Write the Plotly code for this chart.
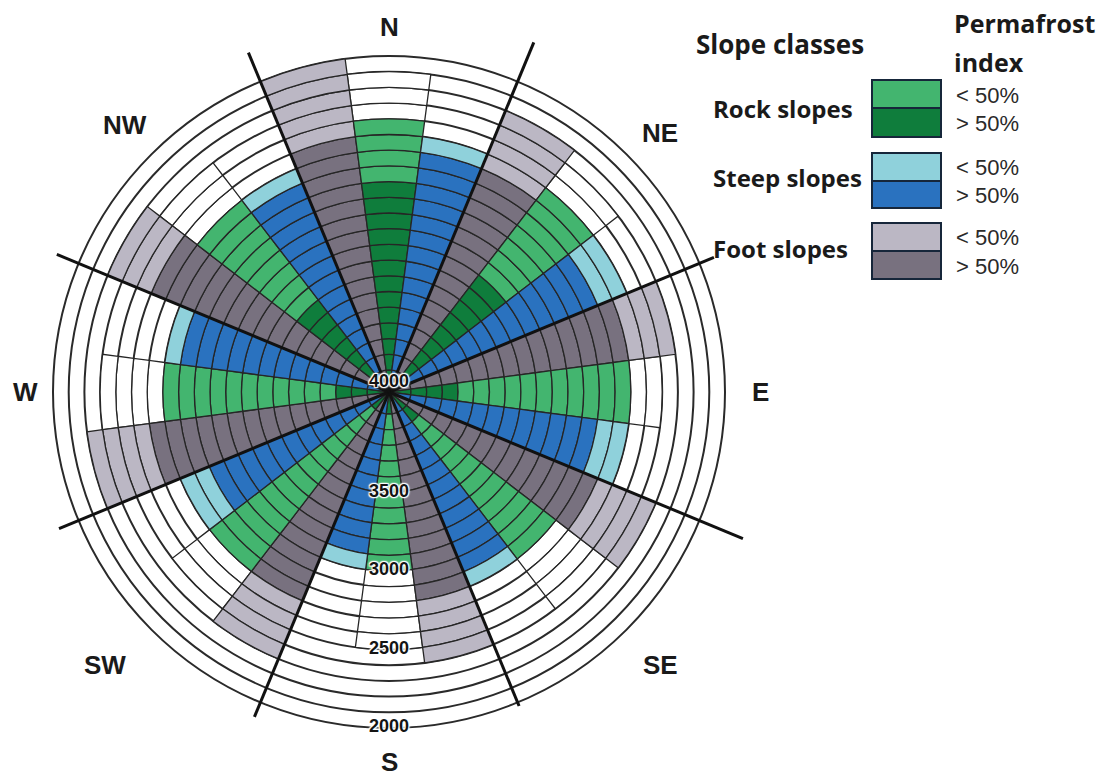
import plotly.graph_objects as go

# ---------------------------------------------------------------------------
# Data: lower elevation limits (m a.s.l.) of each slope class per aspect
# ---------------------------------------------------------------------------
directions = ["N", "NE", "E", "SE", "S", "SW", "W", "NW"]
aspect_deg = [0, 45, 90, 135, 180, 225, 270, 315]

# Rock slopes
rock_pf_high_lower = [2800, 3200, 3700, 3900, 4000, 4000, 3800, 3400]   # index > 50 %
rock_pf_low_lower = [2400, 2500, 2600, 2800, 3000, 2700, 2700, 2600]    # index < 50 %
rock_range_lower = [2100, 2300, 2400, 2400, 2500, 2400, 2300, 2300]     # class extent

# Steep slopes
steep_pf_high_lower = [2600, 2700, 2800, 2900, 3100, 2900, 2800, 2700]
steep_pf_low_lower = [2500, 2500, 2600, 2800, 3000, 2700, 2700, 2600]

# Foot slopes
foot_pf_high_lower = [2500, 2600, 2600, 2700, 2800, 2700, 2600, 2500]
foot_pf_low_lower = [2000, 2200, 2300, 2300, 2400, 2300, 2200, 2200]

elevation_ticks = [2000, 2500, 3000, 3500]
center_tick = 4000

# ---------------------------------------------------------------------------
# Geometry / style
# ---------------------------------------------------------------------------
W, H = 1107, 779
CX, CY = 389, 392          # pixel centre of the rose
R_TOP = 4140               # elevation at the centre
R_2000_PX = 336            # pixel radius of the 2000 m ring
R_OUT = 1680               # elevation at the edge of the polar frame
RING_STEP = 100
SUB_WIDTH = 15

px_per_m = R_2000_PX / (R_TOP - 2000)
frame_px = (R_TOP - R_OUT) * px_per_m

COL = {
    "rock_hi": "#0f7d3c", "rock_lo": "#43b56f",
    "steep_hi": "#2a72bf", "steep_lo": "#8fd1db",
    "foot_hi": "#78717f", "foot_lo": "#bbb7c4",
    "none": "#ffffff",
}
EDGE = "#262626"

cells = {k: {"theta": [], "base": [], "r": []} for k in COL}


def add_cells(theta, hi_lower, lo_lower, extent_lower, hi_key, lo_key):
    bounds = [R_TOP] + list(range(4000, extent_lower - 1, -RING_STEP))
    for up, dn in zip(bounds[:-1], bounds[1:]):
        if dn >= hi_lower:
            key = hi_key
        elif dn >= lo_lower:
            key = lo_key
        else:
            key = "none"
        cells[key]["theta"].append(theta)
        cells[key]["base"].append(dn)
        cells[key]["r"].append(up - dn)


for i, a in enumerate(aspect_deg):
    add_cells(a - SUB_WIDTH, foot_pf_high_lower[i], foot_pf_low_lower[i],
              foot_pf_low_lower[i], "foot_hi", "foot_lo")
    add_cells(a, rock_pf_high_lower[i], rock_pf_low_lower[i],
              rock_range_lower[i], "rock_hi", "rock_lo")
    add_cells(a + SUB_WIDTH, steep_pf_high_lower[i], steep_pf_low_lower[i],
              steep_pf_low_lower[i], "steep_hi", "steep_lo")

fig = go.Figure()

for key in ["none", "foot_hi", "foot_lo", "rock_hi", "rock_lo", "steep_hi", "steep_lo"]:
    c = cells[key]
    fig.add_trace(go.Barpolar(
        theta=c["theta"], base=c["base"], r=c["r"], width=SUB_WIDTH,
        marker=dict(color=COL[key], line=dict(color=EDGE, width=1.3)),
        showlegend=False, hoverinfo="skip",
    ))

# heavy separators between the eight aspect sectors
separator_end = [1730, 1900, 1700, 1975, 1900, 1865, 1850, 1800]
for i, a in enumerate(aspect_deg):
    fig.add_trace(go.Scatterpolar(
        r=[R_TOP, separator_end[i]], theta=[a + 22.5, a + 22.5], mode="lines",
        line=dict(color="#111111", width=3), showlegend=False, hoverinfo="skip",
    ))

halo = "1px 1px 1px #fff, -1px -1px 1px #fff, 1px -1px 1px #fff, -1px 1px 1px #fff, 0 0 3px #fff"
label_font = dict(family="Liberation Sans, Arial", size=18, color="#141414",
                  weight="bold", shadow=halo)
fig.add_trace(go.Scatterpolar(
    r=elevation_ticks, theta=[180] * len(elevation_ticks), mode="text",
    text=[str(v) for v in elevation_ticks], textposition="middle center",
    textfont=label_font, showlegend=False, hoverinfo="skip",
))
fig.add_trace(go.Scatterpolar(
    r=[R_TOP], theta=[0], mode="text", text=[str(center_tick)],
    textposition="top center", textfont=label_font,
    showlegend=False, hoverinfo="skip",
))

fig.update_layout(
    width=W, height=H,
    margin=dict(l=0, r=0, t=0, b=0),
    paper_bgcolor="white",
    polar=dict(
        domain=dict(x=[(CX - frame_px) / W, (CX + frame_px) / W],
                    y=[1 - (CY + frame_px) / H, 1 - (CY - frame_px) / H]),
        bgcolor="rgba(0,0,0,0)",
        bargap=0,
        radialaxis=dict(
            range=[R_TOP, R_OUT],
            tickvals=list(range(2000, 4001, RING_STEP)),
            showticklabels=False, ticks="", showline=False,
            showgrid=True, gridcolor="#2a2a2a", gridwidth=1.5,
        ),
        angularaxis=dict(
            rotation=90, direction="clockwise",
            showgrid=False, showline=False, showticklabels=False, ticks="",
        ),
    ),
)


def paper(x, y):
    return x / W, 1 - y / H


# compass labels
compass_pos = {"N": (389, 27), "NE": (660, 133), "E": (760, 392), "SE": (660, 665),
               "S": (389, 762), "SW": (105, 665), "W": (25, 392), "NW": (125, 125)}
for d in directions:
    x, y = paper(*compass_pos[d])
    fig.add_annotation(x=x, y=y, xref="paper", yref="paper", text=d, showarrow=False,
                       xanchor="center", yanchor="middle",
                       font=dict(family="Liberation Sans, Arial", size=26,
                                 color="#1a1a1a", weight="bold"))

# legend
title_font = dict(family="Open Sans", size=26, color="#1a1a1a", weight="bold")
head_font = dict(family="Open Sans", size=25, color="#1a1a1a", weight="bold")
name_font = dict(family="Open Sans", size=24, color="#1a1a1a", weight="bold")
pct_font = dict(family="Liberation Sans, Arial", size=22, color="#2a2a2a")


def legend_text(txt, x, y, font):
    px_, py_ = paper(x, y)
    fig.add_annotation(x=px_, y=py_, xref="paper", yref="paper", text=txt,
                       showarrow=False, xanchor="left", yanchor="middle", font=font)


legend_text("Slope classes", 694, 44, title_font)
legend_text("Permafrost", 952, 23, head_font)
legend_text("index", 952, 62, head_font)

legend_rows = [
    ("Rock slopes", "rock_lo", "rock_hi", 80, 108, 137, 108),
    ("Steep slopes", "steep_lo", "steep_hi", 153, 181, 208, 178),
    ("Foot slopes", "foot_lo", "foot_hi", 223, 251, 279, 248),
]
for name, lo_key, hi_key, top, mid, bot, ty in legend_rows:
    x0, y0 = paper(872, top)
    x1, ym = paper(941, mid)
    _, y1 = paper(941, bot)
    fig.add_shape(type="rect", xref="paper", yref="paper", x0=x0, x1=x1, y0=ym, y1=y0,
                  fillcolor=COL[lo_key], line=dict(color="#16263a", width=2))
    fig.add_shape(type="rect", xref="paper", yref="paper", x0=x0, x1=x1, y0=y1, y1=ym,
                  fillcolor=COL[hi_key], line=dict(color="#16263a", width=2))
    legend_text(name, 711, ty, name_font)
    legend_text("&lt; 50%", 954, (top + mid) / 2 + 1, pct_font)
    legend_text("&gt; 50%", 954, (mid + bot) / 2 + 1, pct_font)

fig.write_html("out.html")
